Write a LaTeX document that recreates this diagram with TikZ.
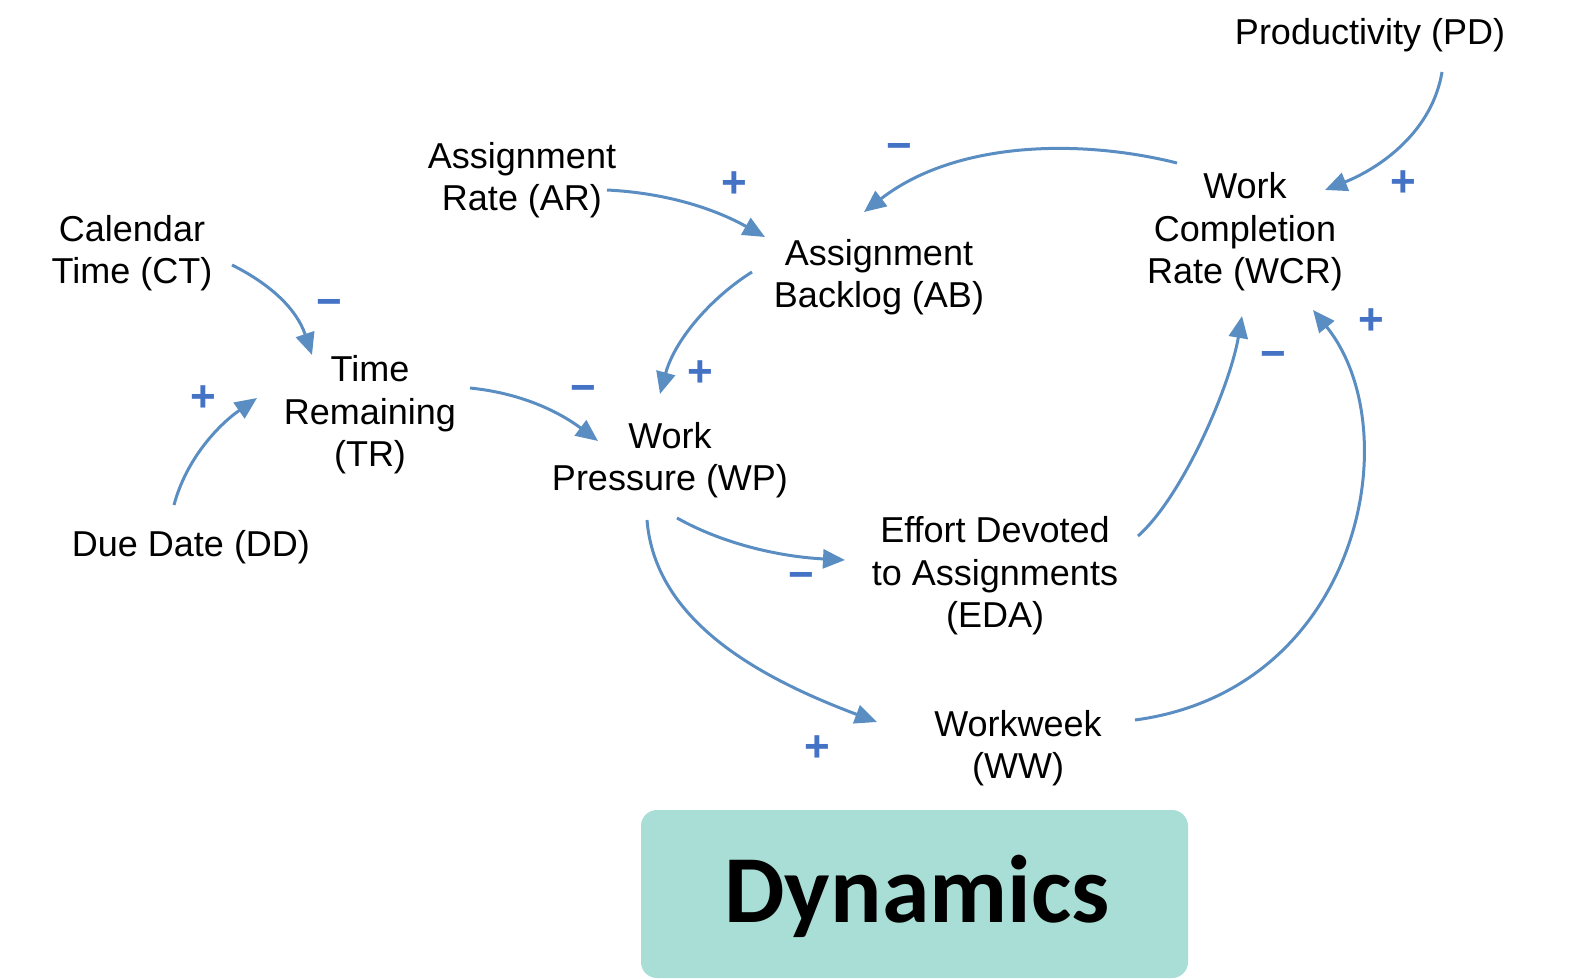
\documentclass[tikz,border=0pt]{standalone}
\usepackage{fontspec}
\setmainfont{Liberation Sans}
\newfontfamily\dynfont{Carlito}
\usetikzlibrary{arrows.meta}
\definecolor{linkblue}{RGB}{90,142,194}
\definecolor{signblue}{RGB}{68,114,196}
\definecolor{boxteal}{RGB}{168,222,214}
\begin{document}
\begin{tikzpicture}[x=1pt,y=-1pt,
  var/.style={align=center,inner sep=0pt,font=\fontsize{36}{42.5}\selectfont},
  link/.style={draw=linkblue,line width=3pt,-{Triangle[length=22pt,width=19pt]}},
  sign/.style={text=signblue,inner sep=0pt,font=\bfseries\fontsize{44}{44}\selectfont}]
\useasboundingbox (0,0) rectangle (1573,979);

% variables
\node[var] (pd)  at (1370,35)  {Productivity (PD)};
\node[var] (wcr) at (1245,232) {Work\\Completion\\Rate (WCR)};
\node[var] (ar)  at (522,180)  {Assignment\\Rate (AR)};
\node[var] (ab)  at (879,277)  {Assignment\\Backlog (AB)};
\node[var] (ct)  at (132,253)  {Calendar\\Time (CT)};
\node[var] (tr)  at (370,415)  {Time\\Remaining\\(TR)};
\node[var] (wp)  at (670,460)  {Work\\Pressure (WP)};
\node[var] (dd)  at (191,547)  {Due Date (DD)};
\node[var] (eda) at (995,576)  {Effort Devoted\\to Assignments\\(EDA)};
\node[var] (ww)  at (1018,748) {Workweek\\(WW)};

% causal links
\draw[link] ([shift={(72,37)}]pd.center) .. controls +(-10,60) and +(55,-22) .. ([shift={(80,-42)}]wcr.center);
\draw[link] ([shift={(-68,-69)}]wcr.center) .. controls +(-100,-25) and +(90,-70) .. ([shift={(-15,-65)}]ab.center);
\draw[link] ([shift={(85,10)}]ar.center) .. controls +(60,3) and +(-50,-28) .. ([shift={(-114,-40)}]ab.center);
\draw[link] ([shift={(-127,-5)}]ab.center) .. controls +(-40,25) and +(15,-55) .. ([shift={(-10,-66)}]wp.center);
\draw[link] ([shift={(100,12)}]ct.center) .. controls +(40,20) and +(-15,-45) .. ([shift={(-58,-60)}]tr.center);
\draw[link] ([shift={(-17,-42)}]dd.center) .. controls +(12,-45) and +(-40,28) .. ([shift={(-113,-17)}]tr.center);
\draw[link] ([shift={(100,-27)}]tr.center) .. controls +(50,5) and +(-40,-30) .. ([shift={(-72,-19)}]wp.center);
\draw[link] ([shift={(7,58)}]wp.center) .. controls +(50,28) and +(-60,-3) .. ([shift={(-150,-16)}]eda.center);
\draw[link] ([shift={(-23,60)}]wp.center) .. controls +(8,100) and +(-120,-45) .. ([shift={(-141,-26)}]ww.center);
\draw[link] ([shift={(143,-40)}]eda.center) .. controls +(45,-40) and +(-12,70) .. ([shift={(-3,84)}]wcr.center);
\draw[link] ([shift={(117,-28)}]ww.center) .. controls +(225,-30) and +(97,120) .. ([shift={(68,78)}]wcr.center);

% polarities
\node[sign] (s1)  at (1403,184) {+};
\node[sign] (s2)  at (899,152)  {−};
\node[sign] (s3)  at (734,185)  {+};
\node[sign] (s4)  at (700,374)  {+};
\node[sign] (s5)  at (329,308)  {−};
\node[sign] (s6)  at (203,399)  {+};
\node[sign] (s7)  at (583,394)  {−};
\node[sign] (s8)  at (801,581)  {−};
\node[sign] (s9)  at (817,749)  {+};
\node[sign] (s10) at (1273,360) {−};
\node[sign] (s11) at (1371,322) {+};

% title panel
\fill[boxteal,rounded corners=16pt] (641,810) rectangle (1188,978);
\node[font=\dynfont\bfseries\fontsize{96}{96}\selectfont,anchor=base,inner sep=0pt] (title) at (917,922) {Dynamics};
\end{tikzpicture}
\end{document}
